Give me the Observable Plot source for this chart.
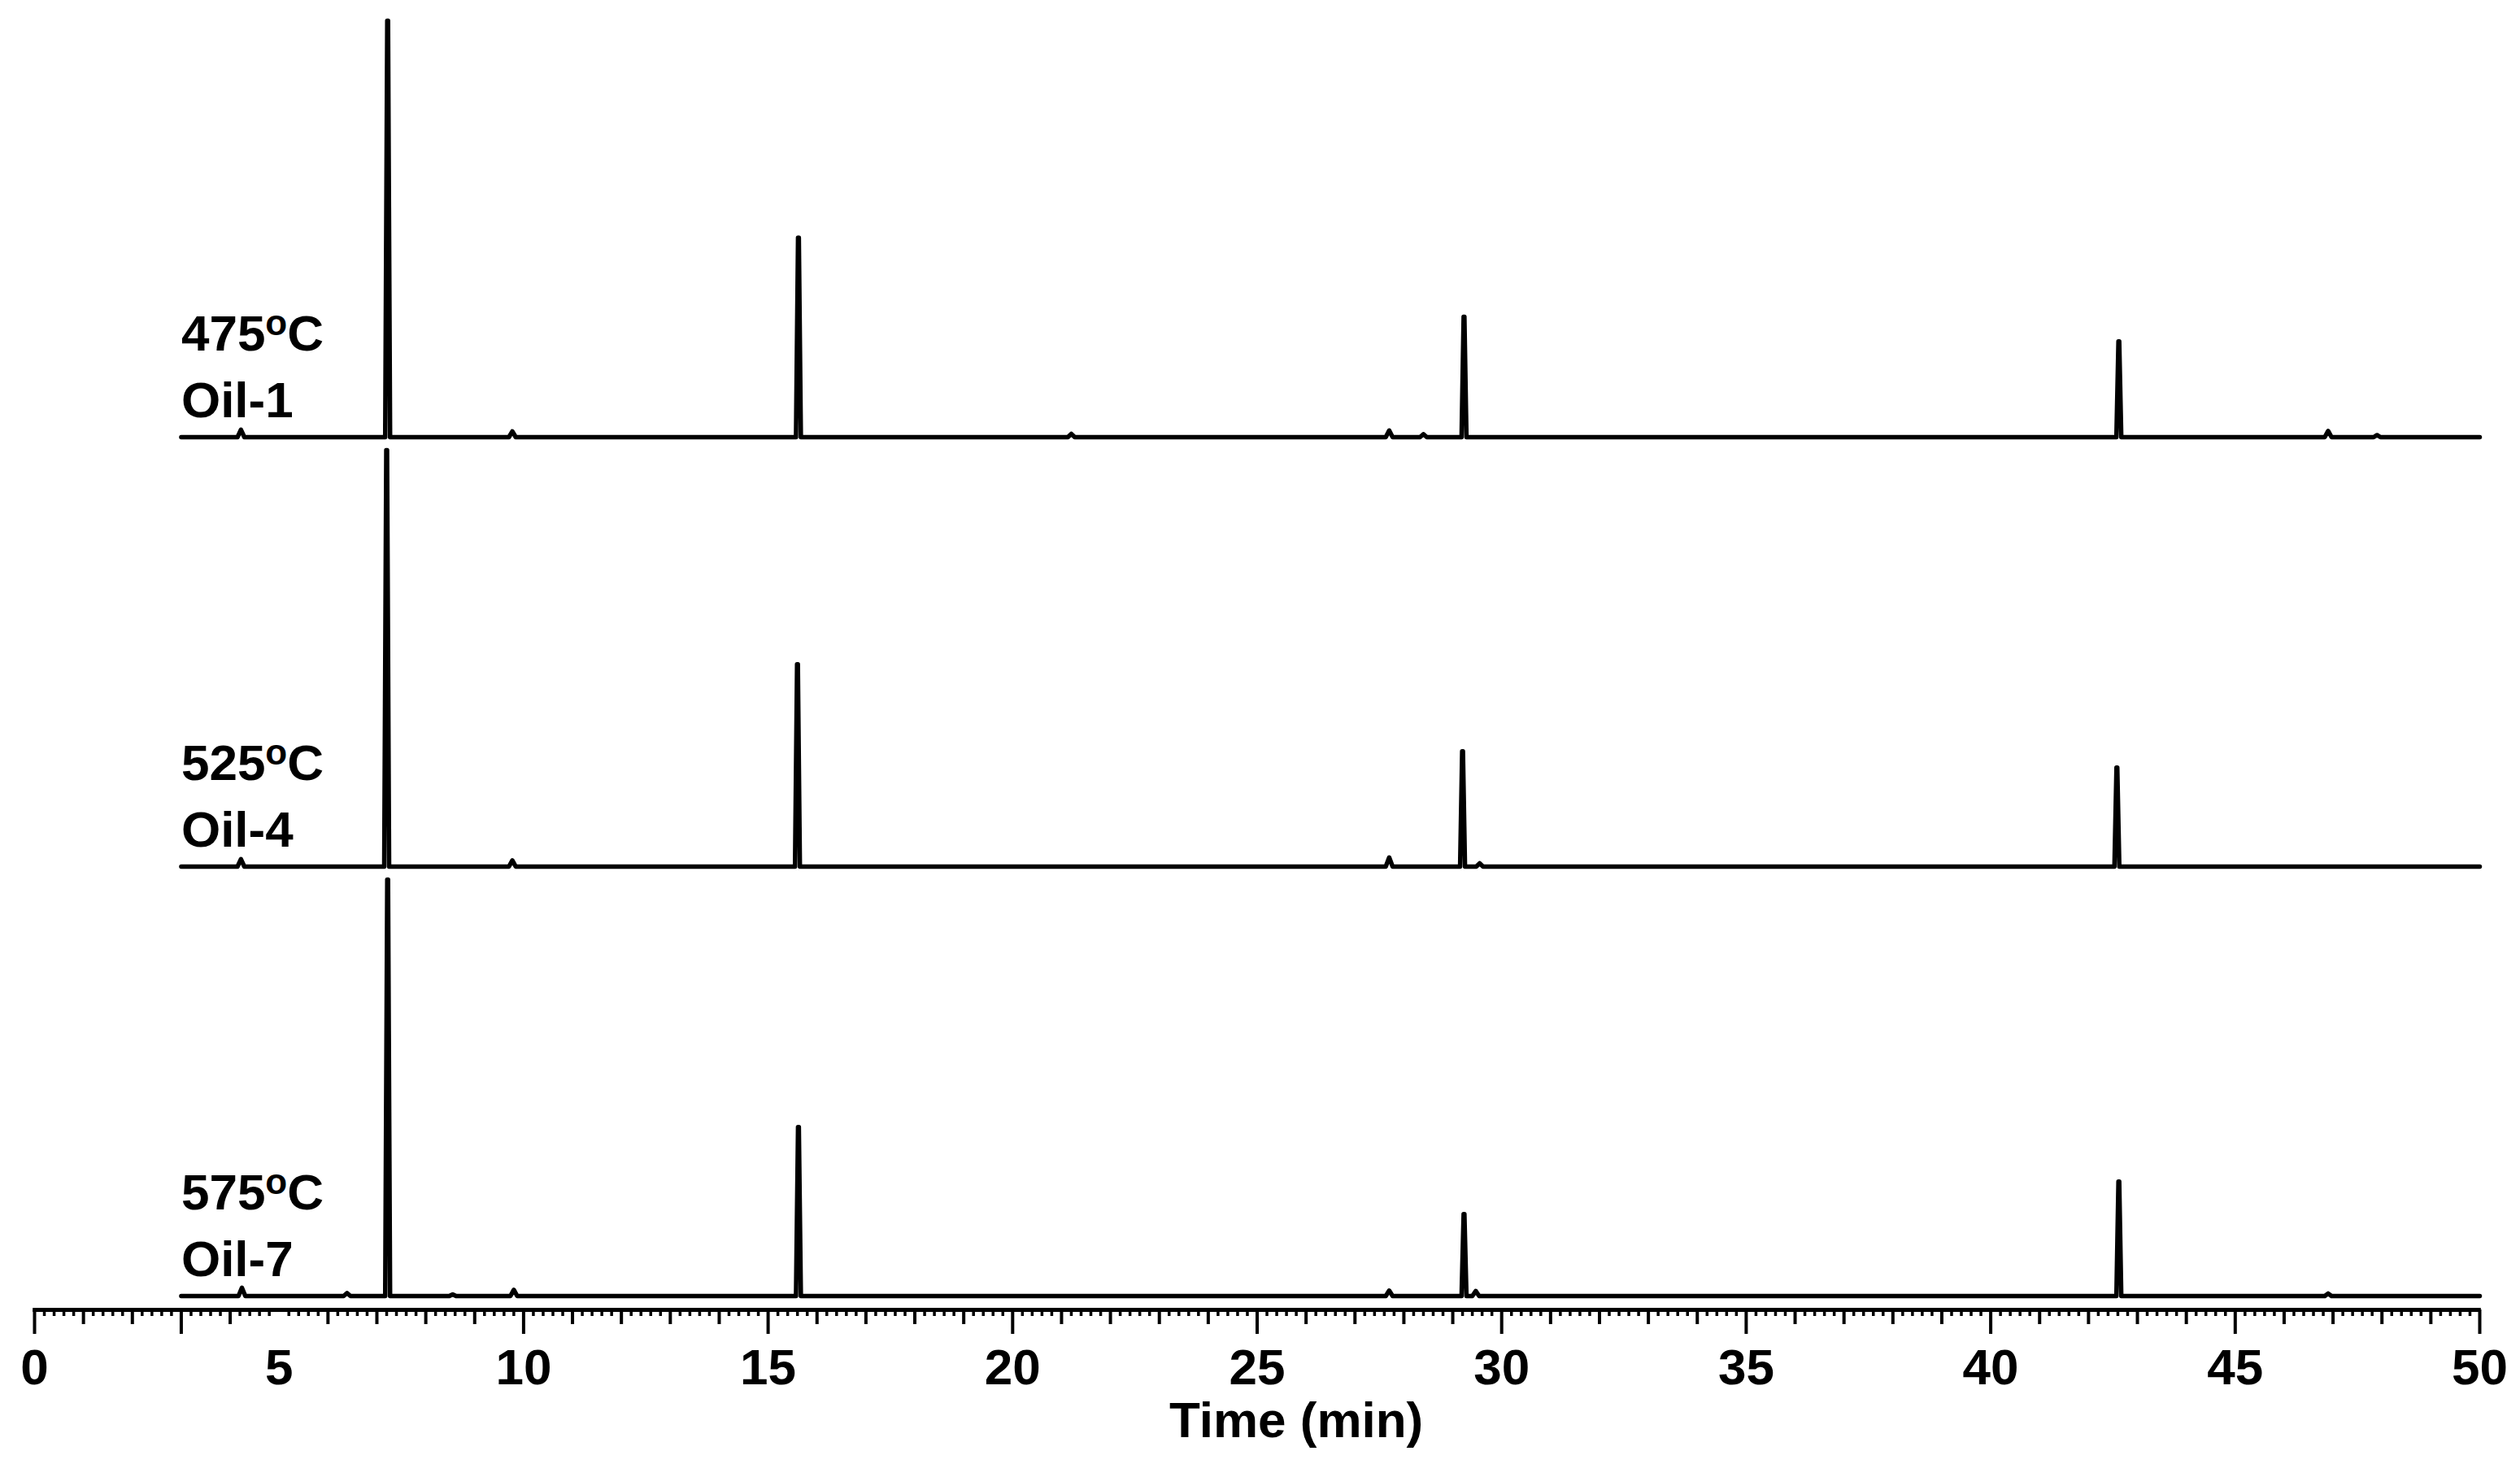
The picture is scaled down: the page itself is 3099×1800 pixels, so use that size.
<!DOCTYPE html>
<html>
<head>
<meta charset="utf-8">
<script src="https://cdn.jsdelivr.net/npm/d3@7"></script>
<script src="https://cdn.jsdelivr.net/npm/@observablehq/plot@0.6"></script>
<style>
  html, body { margin: 0; padding: 0; background: #fff; }
  svg { display: block; }
</style>
</head>
<body>
<div id="chart"></div>
<script>
// ---- data ----
const traceNames = ["Oil-1", "Oil-4", "Oil-7"];
const temperatures = ["475", "525", "575"];
const timeStart = 3.0;   // traces start (min)
const timeEnd = 50.0;    // traces end (min)

// peaks: [retention time (min), relative intensity (largest peak = 100)]
const peaksOil1 = [
  [4.22, 1.8], [7.22, 100], [9.77, 1.4], [15.62, 47.9], [21.2, 0.8],
  [27.7, 1.6], [28.4, 0.7], [29.23, 28.9], [42.62, 23.0], [46.9, 1.5], [47.9, 0.5]
];
const peaksOil4 = [
  [4.22, 1.8], [7.20, 100], [9.77, 1.5], [15.60, 48.6], [27.7, 2.2],
  [29.20, 27.7], [29.55, 0.8], [42.58, 23.8]
];
const peaksOil7 = [
  [4.24, 2.0], [6.39, 0.7], [7.22, 100], [8.55, 0.4], [9.8, 1.5], [15.62, 40.6],
  [27.7, 1.3], [29.23, 19.7], [29.47, 1.2], [42.62, 27.5], [46.9, 0.6]
];
const peakTables = [peaksOil1, peaksOil4, peaksOil7];

// axis ticks
const labelTicks = [0, 5, 10, 15, 20, 25, 30, 35, 40, 45, 50];
const majorTicks = [0, 3, 10, 15, 20, 25, 30, 35, 40, 45, 50];
const mediumTicks = d3.range(1, 50).filter(v => v % 5 !== 0 && v !== 3);
const minorTicks = d3.range(1, 250).map(i => i / 5).filter(v => !Number.isInteger(v));
const xLabel = "Time (min)";

// ---- layout ----
const W = 3099, H = 1800;
const unitPx = 5.12;              // px per intensity unit
const stepUnits = 528 / unitPx;   // vertical distance between stacked traces
const yMin = -17 / unitPx;        // axis line just below the lowest trace
const yMax = 1593 / unitPx;
const offsets = [2 * stepUnits, stepUnits, 0];

// build trace vertices from the peak tables (stick-like peaks)
const rows = [];
peakTables.forEach((peaks, k) => {
  const name = traceNames[k];
  const pts = [[timeStart, 0]];
  for (const [t, h] of peaks) {
    const w = h > 10 ? 0.05 : 0.07;
    pts.push([t - w, 0]);
    if (h > 10) { pts.push([t - 0.008, h]); pts.push([t + 0.008, h]); }
    else pts.push([t, h]);
    pts.push([t + w, 0]);
  }
  pts.push([timeEnd, 0]);
  for (const [t, v] of pts) rows.push({trace: name, t, y: v + offsets[k]});
});

const labelRows = traceNames.map((name, k) => ({name, temp: temperatures[k], off: offsets[k]}));

const font = "'Liberation Sans', Arial, Helvetica, sans-serif";

const plot = Plot.plot({
  width: W,
  height: H,
  marginLeft: 42,
  marginRight: 50,
  marginTop: 0,
  marginBottom: 190,
  style: {fontFamily: font, color: "black", background: "white", overflow: "visible"},
  x: {domain: [0, 50], axis: null},
  y: {domain: [yMin, yMax], axis: null},
  marks: [
    Plot.line(rows, {x: "t", y: "y", z: "trace", stroke: "black", strokeWidth: 5.5, strokeLinejoin: "round", strokeLinecap: "round"}),
    Plot.axisX(minorTicks, {anchor: "bottom", tickSize: 8, strokeWidth: 3.5, tickFormat: () => "", label: null}),
    Plot.axisX(mediumTicks, {anchor: "bottom", tickSize: 18, strokeWidth: 4, tickFormat: () => "", label: null}),
    Plot.axisX(majorTicks, {anchor: "bottom", tickSize: 30, strokeWidth: 4, tickFormat: () => "", label: null}),
    Plot.axisX(labelTicks, {anchor: "bottom", tickSize: 0, tickPadding: 47, fontSize: 62, fontWeight: "bold", label: null}),
    Plot.ruleY([yMin], {x1: -0.03, x2: 50.03, stroke: "black", strokeWidth: 5}),
    Plot.text([xLabel], {x: 25.8, y: yMin, dy: 156, text: d => d, lineAnchor: "bottom", textAnchor: "middle", fontSize: 62, fontWeight: "bold", fill: "black"}),
    Plot.text(labelRows, {x: timeStart, y: d => d.off + 25 / unitPx, text: "name", textAnchor: "start", lineAnchor: "bottom", fontSize: 62, fontWeight: "bold", fill: "black"}),
    Plot.text(labelRows, {x: timeStart, y: d => d.off + 107 / unitPx, text: d => d.temp + "°C", textAnchor: "start", lineAnchor: "bottom", fontSize: 62, fontWeight: "bold", fill: "black"})
  ]
});

// superscript "o" in the temperature labels, as in the reference
d3.select(plot).selectAll("text").filter(function() { return /^\d+°C$/.test(this.textContent); })
  .each(function() {
    const num = this.textContent.replace("°C", "");
    const sel = d3.select(this);
    sel.text("");
    sel.append("tspan").text(num);
    sel.append("tspan").attr("font-size", 44).attr("dy", -19).text("o");
    sel.append("tspan").attr("dy", 19).text("C");
  });

document.getElementById("chart").appendChild(plot);
</script>
</body>
</html>
